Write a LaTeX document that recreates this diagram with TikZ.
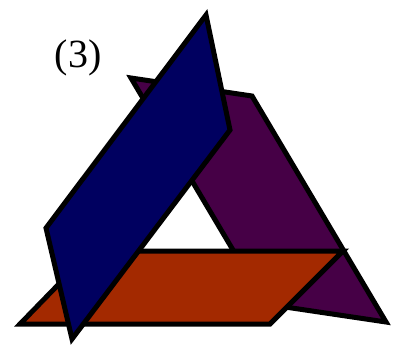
\documentclass[tikz,border=0pt]{standalone}
\usepackage{fontspec}
\setmainfont{Liberation Serif}
\definecolor{bluep}{RGB}{0,0,96}
\definecolor{purplep}{RGB}{70,0,70}
\definecolor{orangep}{RGB}{163,41,0}
\begin{document}
\begin{tikzpicture}[x=1pt,y=-1pt,
  piece/.style={draw=black,line width=5pt,line join=miter}]
\useasboundingbox (0,0) rectangle (395,345);
% purple parallelogram
\coordinate (p1) at (131,78);
\coordinate (p2) at (252,96);
\coordinate (p3) at (386,322);
\coordinate (p4) at (265,304);
\fill[purplep,piece] (p1) -- (p2) -- (p3) -- (p4) -- cycle;
% orange parallelogram
\coordinate (o1) at (91,251);
\coordinate (o2) at (343,251);
\coordinate (o3) at (270,324);
\coordinate (o4) at (20,324);
\fill[orangep,piece] (o1) -- (o2) -- (o3) -- (o4) -- cycle;
% blue parallelogram
\coordinate (b1) at (206,15);
\coordinate (b2) at (230,130);
\coordinate (b3) at (72,339);
\coordinate (b4) at (46,228);
\fill[bluep,piece] (b1) -- (b2) -- (b3) -- (b4) -- cycle;
\node[font=\fontsize{40}{40}\selectfont,inner sep=0pt] (lbl) at (78,58) {(3)};
\end{tikzpicture}
\end{document}
